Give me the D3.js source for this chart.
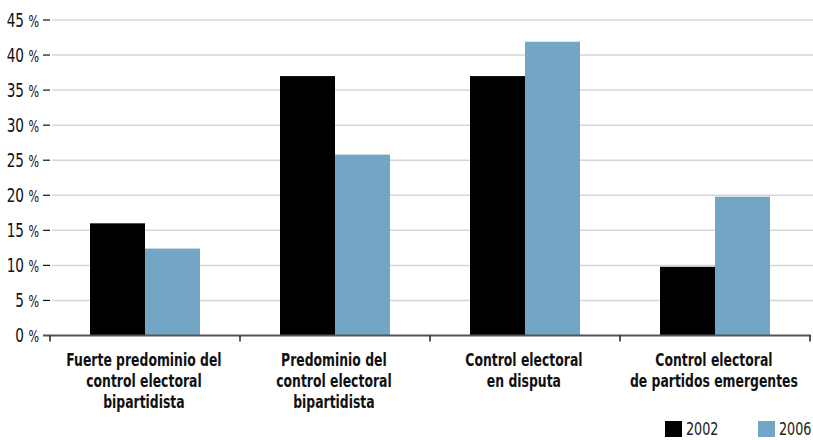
<!DOCTYPE html>
<html>
<head>
<meta charset="utf-8">
<script src="https://cdn.jsdelivr.net/npm/d3@7"></script>
<style>
  body { margin: 0; background: #fff; }
  svg { display: block; font-family: "DejaVu Sans", sans-serif; }
</style>
</head>
<body>
<svg id="chart" width="813" height="440"></svg>
<script>
// Data
const categories = [
  ["Fuerte predominio del", "control electoral", "bipartidista"],
  ["Predominio del", "control electoral", "bipartidista"],
  ["Control electoral", "en disputa"],
  ["Control electoral", "de partidos emergentes"]
];
const years = ["2002", "2006"];
const values2002 = [16, 37, 37, 9.8];
const values2006 = [12.4, 25.8, 41.9, 19.8];
const yTicks = [0, 5, 10, 15, 20, 25, 30, 35, 40, 45];
const colors = ["#000000", "#73a6c4"];

const svg = d3.select("#chart");

// squeeze text horizontally around its anchor x to mimic the condensed face
function squeeze(sel, ax, s) {
  sel.attr("transform", d => {
    const cx = ax(d);
    return `translate(${cx},0) scale(${s},1) translate(${-cx},0)`;
  });
}

const x = d3.scaleBand()
  .domain(d3.range(categories.length))
  .range([50, 810])
  .padding(0);

const xInner = d3.scaleBand()
  .domain(years)
  .range([40, 150]);

const y = d3.scaleLinear()
  .domain([0, 45])
  .range([335.5, 20]);

// gridlines
svg.append("g")
  .selectAll("line")
  .data(yTicks.filter(d => d > 0))
  .join("line")
  .attr("x1", 52).attr("x2", 813)
  .attr("y1", d => y(d)).attr("y2", d => y(d))
  .attr("stroke", "#d6d6d6")
  .attr("stroke-width", 1.5);

// y tick dashes + labels
const yg = svg.append("g");
yg.selectAll("line")
  .data(yTicks.filter(d => d > 0))
  .join("line")
  .attr("x1", 43).attr("x2", 50)
  .attr("y1", d => y(d)).attr("y2", d => y(d))
  .attr("stroke", "#111")
  .attr("stroke-width", 1.2);

const yl = yg.selectAll("text")
  .data(yTicks)
  .join("text")
  .attr("x", 39)
  .attr("y", d => y(d) + 7)
  .attr("text-anchor", "end")
  .attr("font-size", 19)
  .attr("fill", "#111");
yl.append("tspan").text(d => d + " ");
yl.append("tspan").attr("font-size", 15.5).text("%");
squeeze(yl, () => 39, 0.72);

// bars
const series = [values2002, values2006];
const groups = svg.append("g")
  .selectAll("g")
  .data(categories.map((c, i) => i))
  .join("g")
  .attr("transform", i => `translate(${x(i)},0)`);

groups.selectAll("rect")
  .data(i => years.map((yr, j) => ({ yr, v: series[j][i], j })))
  .join("rect")
  .attr("x", d => xInner(d.yr))
  .attr("width", xInner.bandwidth())
  .attr("y", d => y(d.v))
  .attr("height", d => y(0) - y(d.v))
  .attr("fill", d => colors[d.j]);

// x baseline and ticks
svg.append("line")
  .attr("x1", 43).attr("x2", 811)
  .attr("y1", y(0)).attr("y2", y(0))
  .attr("stroke", "#555")
  .attr("stroke-width", 2);

svg.append("g")
  .selectAll("line")
  .data(d3.range(categories.length + 1))
  .join("line")
  .attr("x1", i => 50 + i * x.step())
  .attr("x2", i => 50 + i * x.step())
  .attr("y1", y(0)).attr("y2", y(0) + 6)
  .attr("stroke", "#222")
  .attr("stroke-width", 1.5);

// category labels
const lab = svg.append("g")
  .selectAll("text")
  .data(categories.map((c, i) => i))
  .join("text")
  .attr("text-anchor", "middle")
  .attr("font-size", 17)
  .attr("font-weight", "bold")
  .attr("fill", "#111");

lab.selectAll("tspan")
  .data(i => categories[i].map(t => ({ t, i })))
  .join("tspan")
  .attr("x", d => x(d.i) + x.bandwidth() / 2)
  .attr("y", (d, k) => 366 + k * 21)
  .text(d => d.t);
squeeze(lab, i => x(i) + x.bandwidth() / 2 - 4, 0.73);

// legend
const leg = svg.append("g")
  .selectAll("g")
  .data(years)
  .join("g")
  .attr("transform", (d, i) => `translate(${665 + i * 93},421)`);

leg.append("rect")
  .attr("width", 17).attr("height", 16)
  .attr("fill", (d, i) => colors[i]);

leg.append("text")
  .attr("x", 21).attr("y", 14)
  .attr("font-size", 17)
  .attr("fill", "#222")
  .attr("transform", "translate(21,0) scale(0.75,1) translate(-21,0)")
  .text(d => d);
</script>
</body>
</html>
